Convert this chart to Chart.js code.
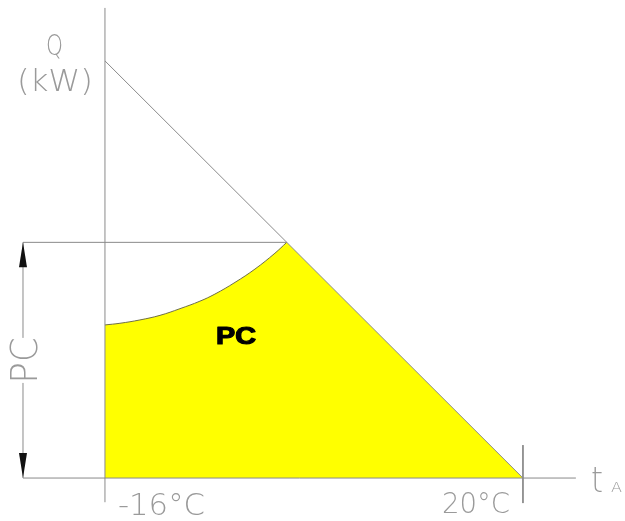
<!DOCTYPE html>
<html>
<head>
<meta charset="utf-8">
<script src="https://cdn.jsdelivr.net/npm/chart.js@4"></script>
<style>
  html, body { margin: 0; padding: 0; background: #fff; }
  #wrap { width: 625px; height: 521px; }
</style>
</head>
<body>
<div id="wrap"><canvas id="chart"></canvas></div>
<script>
// outdoor temperature (°C) and load Q (kW)
const tTicks = [-16, 20];
const tTickLabels = ['-16°C', '20°C'];
const loadT = [-16, 20];
const loadQ = [10, 0];

// heat pump capacity PC and balance point
const pcLevel = 5.65;
const tBalance = -0.35;

// capacity curve below the balance point
const capT = [-16, -14.71, -12.99, -11.26, -9.54, -7.82, -6.53, -4.80, -3.08, -1.36, -0.35];
const capQ = [3.67, 3.71, 3.79, 3.90, 4.06, 4.24, 4.41, 4.69, 5.01, 5.39, 5.65];

// axis extents
const axisT = [-23.06, 24.56];
const axisQ = [-0.58, 11.27];
const tickQ = [0.79, -0.6];
const dimT = -23.06;
const dimGap = [2.28, 3.36];

const lineGrey = '#8a8a8a';
const textGrey = '#9a9a9a';

function pts(xs, ys) {
    return xs.map((v, i) => ({ x: v, y: ys[i] }));
}

// thin text squeezed to a given width
function cadText(ctx, str, x, y, size, width) {
    ctx.save();
    ctx.font = '200 ' + size + 'px "DejaVu Sans"';
    const w = ctx.measureText(str).width;
    ctx.translate(x, y);
    ctx.scale(width / w, 1);
    ctx.textAlign = 'left';
    ctx.textBaseline = 'alphabetic';
    ctx.fillText(str, 0, 0);
    ctx.restore();
}

function arrow(ctx, x, y, dir) {
    ctx.beginPath();
    ctx.moveTo(x, y);
    ctx.lineTo(x - 4, y + dir * 25);
    ctx.lineTo(x + 4, y + dir * 25);
    ctx.closePath();
    ctx.fill();
}

const annotations = {
    id: 'annotations',
    afterDatasetsDraw(chart) {
        const { ctx, scales: { x, y } } = chart;
        ctx.save();

        // dimension arrows for PC
        ctx.fillStyle = '#111';
        const dx = x.getPixelForValue(dimT);
        arrow(ctx, dx, y.getPixelForValue(pcLevel), 1);
        arrow(ctx, dx, y.getPixelForValue(0), -1);

        ctx.fillStyle = textGrey;
        // axis titles
        cadText(ctx, 'Q', 46, 55, 28, 17);
        cadText(ctx, '(kW)', 17, 91, 30, 76);
        cadText(ctx, 't', 591, 492, 36, 12);
        cadText(ctx, 'A', 611, 492, 14, 11);

        // temperature labels
        const base = y.getPixelForValue(0);
        cadText(ctx, tTickLabels[0], x.getPixelForValue(tTicks[0]) + 13, base + 37, 31, 87);
        cadText(ctx, tTickLabels[1], x.getPixelForValue(tTicks[1]) - 81, base + 35, 29, 68);

        // rotated PC on the dimension line
        ctx.save();
        const midY = y.getPixelForValue((dimGap[0] + dimGap[1]) / 2);
        ctx.translate(dx + 14, midY + 23);
        ctx.rotate(-Math.PI / 2);
        cadText(ctx, 'PC', 0, 0, 37, 46);
        ctx.restore();

        // area label, heavy
        ctx.fillStyle = '#000';
        ctx.strokeStyle = '#000';
        ctx.lineWidth = 1.2;
        ctx.lineJoin = 'round';
        ctx.save();
        ctx.font = 'bold 24px "Liberation Sans", Arial';
        const w = ctx.measureText('PC').width;
        ctx.translate(216, 344);
        ctx.scale(40 / w, 1);
        ctx.fillText('PC', 0, 0);
        ctx.strokeText('PC', 0, 0);
        ctx.restore();

        ctx.restore();
    }
};

const thin = { borderColor: lineGrey, borderWidth: 1, pointRadius: 0, showLine: true, fill: false, order: 1 };

new Chart(document.getElementById('chart'), {
    type: 'scatter',
    data: {
        datasets: [
            { ...thin, data: pts(loadT, loadQ) },
            { ...thin, data: pts([tTicks[0], tTicks[0]], axisQ) },
            { ...thin, data: pts(axisT, [0, 0]) },
            { ...thin, data: pts([tTicks[1], tTicks[1]], tickQ) },
            { ...thin, data: pts([dimT, tBalance], [pcLevel, pcLevel]) },
            { ...thin, spanGaps: false, data: [
                { x: dimT, y: 0 }, { x: dimT, y: dimGap[0] },
                { x: dimT, y: null },
                { x: dimT, y: dimGap[1] }, { x: dimT, y: pcLevel }
            ] },
            // load below the line, yellow
            {
                order: 3, showLine: true, pointRadius: 0,
                data: pts(loadT, loadQ),
                borderWidth: 0, borderColor: 'rgba(0,0,0,0)',
                backgroundColor: '#ffff00', fill: 'origin'
            },
            // capacity curve; clears everything above it
            {
                order: 2, showLine: true, pointRadius: 0,
                data: pts(capT, capQ),
                tension: 0.4,
                borderWidth: 1, borderColor: '#6e6e48',
                backgroundColor: '#ffffff', fill: 'end'
            }
        ]
    },
    options: {
        responsive: true,
        maintainAspectRatio: false,
        animation: false,
        layout: { padding: 0 },
        plugins: { legend: { display: false }, tooltip: { enabled: false } },
        scales: {
            x: { type: 'linear', min: -25.04, max: 28.79, display: false },
            y: { type: 'linear', min: -1.03, max: 11.46, display: false }
        }
    },
    plugins: [annotations]
});
</script>
</body>
</html>
